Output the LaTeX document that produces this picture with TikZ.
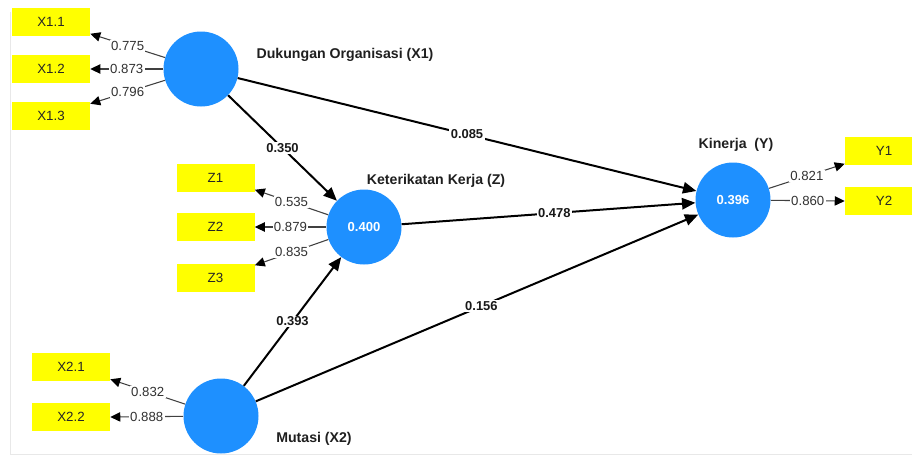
\documentclass[tikz,border=0pt]{standalone}
\usepackage{fontspec}
\setmainfont{Liberation Sans}
\usetikzlibrary{arrows.meta,calc}
\definecolor{lvblue}{RGB}{30,144,255}
\definecolor{indyellow}{RGB}{255,255,0}
\definecolor{lbltext}{RGB}{50,50,50}
\definecolor{frameg}{RGB}{232,232,232}
\tikzset{
  lv/.style={circle, fill=lvblue, draw=none, minimum size=56.25pt, inner sep=0pt,
    text=white, font=\fontsize{9.8pt}{11pt}\selectfont\bfseries},
  ind/.style={rectangle, fill=indyellow, draw=none, minimum width=58.5pt, minimum height=21pt,
    inner sep=0pt, text=black!85, font=\fontsize{10pt}{12pt}\selectfont},
  lvname/.style={inner sep=0pt, text=black!88, font=\fontsize{10.6pt}{12pt}\selectfont\bfseries},
  load/.style={draw=black!75, line width=0.8pt, -{Triangle[length=7.5pt,width=7pt,color=black,fill=black]}},
  loadlbl/.style={fill=white, inner sep=1pt, text=lbltext, font=\fontsize{9.9pt}{11pt}\selectfont},
  path/.style={draw=black, line width=1.5pt, -{Triangle[length=10pt,width=8.5pt]}},
  pathlbl/.style={fill=white, inner sep=1pt, text=black!90, font=\fontsize{9.7pt}{11pt}\selectfont\bfseries},
}
\begin{document}
\begin{tikzpicture}[x=0.75pt, y=-0.75pt]
\useasboundingbox (0,0) rectangle (912,457);
\clip (0,0) rectangle (912,457);
\fill[white] (0,0) rectangle (912,457);
\draw[frameg, line width=0.8pt] (10.5,12) -- (10.5,454.5) -- (912,454.5);

% latent variables
\node[lv] (X1) at (201,69) {};
\node[lv] (Z) at (364,227) {0.400};
\node[lv] (X2) at (221,416) {};
\node[lv] (Y) at (733,200) {0.396};

% names
\node[lvname] (nX1) at (345,55) {Dukungan Organisasi (X1)};
\node[lvname] (nZ) at (436,181) {Keterikatan Kerja (Z)};
\node[lvname] (nY) at (736,145) {Kinerja\ \ (Y)};
\node[lvname] (nX2) at (314,439) {Mutasi (X2)};

% indicators
\node[ind] (X11) at (51,21.5) {X1.1};
\node[ind] (X12) at (51,69) {X1.2};
\node[ind] (X13) at (51,116) {X1.3};
\node[ind] (Z1) at (215.5,177.5) {Z1};
\node[ind] (Z2) at (215.5,227) {Z2};
\node[ind] (Z3) at (215.5,277.5) {Z3};
\node[ind] (X21) at (71,367) {X2.1};
\node[ind] (X22) at (71,417) {X2.2};
\node[ind] (Y1) at (884,150.5) {Y1};
\node[ind] (Y2) at (884,201) {Y2};

% outer loadings
\draw[load] (X1) -- node[loadlbl] {0.775} ($(X11.south east)+(0,-2)$);
\draw[load] (X1) -- node[loadlbl] {0.873} (X12.east);
\draw[load] (X1) -- node[loadlbl] {0.796} ($(X13.north east)+(0,2)$);
\draw[load] (Z) -- node[loadlbl] {0.535} ($(Z1.south east)+(0,-2)$);
\draw[load] (Z) -- node[loadlbl] {0.879} (Z2.east);
\draw[load] (Z) -- node[loadlbl] {0.835} ($(Z3.north east)+(0,2)$);
\draw[load] (X2) -- node[loadlbl] {0.832} ($(X21.south east)+(0,-2)$);
\draw[load] (X2) -- node[loadlbl] {0.888} (X22.east);
\draw[load] (Y) -- node[loadlbl] {0.821} ($(Y1.south west)+(0,-1)$);
\draw[load] (Y) -- node[loadlbl] {0.860} (Y2.west);

% structural paths
\draw[path] (X1) -- node[pathlbl] {0.350} (Z);
\draw[path] (X1) -- node[pathlbl] {0.085} (Y);
\draw[path] (Z) -- node[pathlbl, pos=0.52] {0.478} (Y);
\draw[path] (X2) -- node[pathlbl] {0.393} (Z);
\draw[path] (X2) -- node[pathlbl, pos=0.51] {0.156} (Y);
\end{tikzpicture}
\end{document}
